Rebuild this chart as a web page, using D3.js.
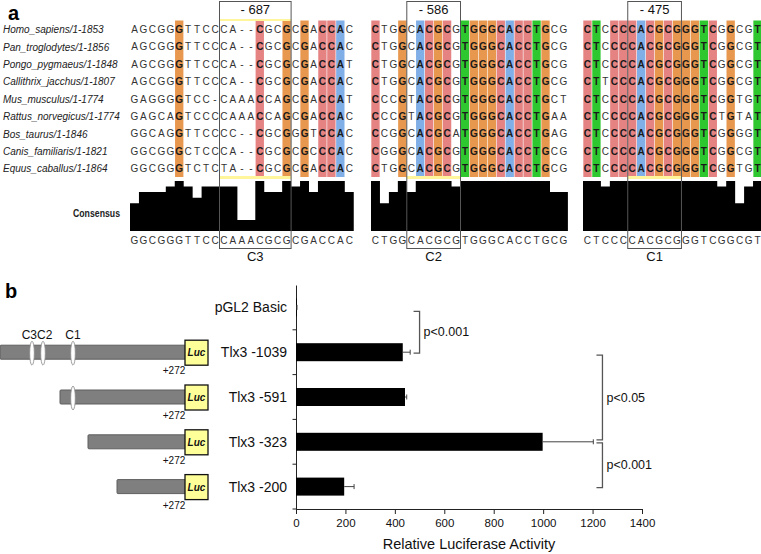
<!DOCTYPE html>
<html><head><meta charset="utf-8">
<script src="https://cdn.jsdelivr.net/npm/d3@7"></script>
<style>body{margin:0;background:#fff}svg{display:block}text{font-family:"Liberation Sans",Arial,sans-serif}</style>
</head><body><svg id="c" width="761" height="554"></svg>
<script>
// ---------- Panel a data ----------
const species = ["Homo_sapiens/1-1853","Pan_troglodytes/1-1856","Pongo_pygmaeus/1-1848","Callithrix_jacchus/1-1807","Mus_musculus/1-1774","Rattus_norvegicus/1-1774","Bos_taurus/1-1846","Canis_familiaris/1-1821","Equus_caballus/1-1864"];
const block1 = ["AGCGGGTTCCCA--CGCGCGACCAC","AGCGGGTTCCCA--CGCGCGACCAC","AGCGGGTTCCCA--CGCGCGACCAT","AGCGGGTTCCCA--CGCGCGACCAC","GAGGGGTCC-CAAACCAGCGACCAT","GAGCAGTCCCCAAACCAGCGACCAC","GGCAGGTTCCCC--CGCGGGTCCAC","GGCGGGCTCCCA--CGCGCGCCCAC","GGCGGGTCTCTA--CGCGCGACCAC"];
const block2 = ["CTGGCACGCGTGGGCACCTGCG","CTGGCACGCGTGGGCACCTGCG","CTGGCACGCGTGGGCACCTGCG","CTGGCACGCGTGGGCACCTGCG","CCCGTACGCGTGGGCACCTGCT","CCCGTACGCGTGGGCACCTGAA","CCGGCACGCATGGGCACCTGAG","CGGGCACGCGTGGGCACCTGCG","CTGGCACGCGTGGGCACCTGCG"];
const block3 = ["CTCCCCACGCGGGTCGGCGT","CTCCCCACGCGGGTCGGCGT","CTCCCCACGCGGGTCGGCGT","CTTCCCACGCGGGTCGGCGT","CTCCCCACGCGGGTCGGTGT","CTCCCCACGCGGGTCTGTAT","CTCCCCACGCGGGTCGGGGT","CTCCCCACGCGGGTCGGCGT","CTCCCCACGCGGGTCGGTGT"];
const blocks = [block1, block2, block3];
const siteLabels = ["- 687","- 586","- 475"];
const siteNames = ["C3","C2","C1"];
const siteCols = [[10,18],[4,10],[5,11]]; // column ranges of boxed elements in each block

// ---------- Panel b data ----------
const constructs = ["pGL2 Basic","Tlx3 -1039","Tlx3 -591","Tlx3 -323","Tlx3 -200"];
const activity = [3, 432, 441, 998, 195];
const errors = [1, 30, 7, 205, 40];
const xTicks = [0,200,400,600,800,1000,1200,1400];
const comparisons = [[0,1],[1,3],[3,4]];
const pLabels = ["p<0.001","p<0.05","p<0.001"];
const bracketX = [500, 1240, 1240];
const promoterStarts = [null, -1039, -591, -323, -200];
const elementNames = ["C3","C2","C1"];
const elementPos = [-687, -586, -475];

const svg = d3.select("#c");
svg.append("rect").attr("width",761).attr("height",554).attr("fill","#fff");

// ---------- Panel a ----------
const colW = 8.95;
const blockX = [130, 371, 583];
const rowY = d3.scaleBand().domain(d3.range(species.length)).range([20.5, 177]).padding(0);
const consY = d3.scaleLinear().domain([0,1]).range([231,181]);
const baseColor = {C:"#e58383", G:"#e8974f", A:"#80aee6", T:"#2fc72f"};

svg.append("text").attr("x",8).attr("y",20).attr("font-size",20).attr("font-weight","bold").text("a");

const nameG = svg.append("g");
species.forEach((s,i)=>{
  nameG.append("text").attr("x",3).attr("y",rowY(i)+rowY.bandwidth()/2+4)
    .attr("font-size",10).attr("font-style","italic").attr("fill","#222").text(s);
});
svg.append("text").attr("x",73).attr("y",217).attr("font-size",10).attr("font-weight","bold")
  .attr("textLength",47).attr("lengthAdjust","spacingAndGlyphs").attr("fill","#222").text("Consensus");

blocks.forEach((blk,b)=>{
  const n = blk[0].length;
  const x = d3.scaleLinear().domain([0,n]).range([blockX[b], blockX[b]+n*colW]);
  const g = svg.append("g");
  const cols = d3.range(n).map(c=>{
    const chars = blk.map(s=>s[c]);
    const counts = d3.rollup(chars.filter(ch=>ch!=="-"), v=>v.length, d=>d);
    let best = null, bc = 0;
    for (const [k,v] of counts) if (v>bc){bc=v;best=k;}
    return {c, best, frac: bc/chars.length, conserved: bc===chars.length};
  });
  // conserved column shading
  cols.filter(d=>d.conserved).forEach(d=>{
    g.append("rect").attr("x",x(d.c)+0.3).attr("y",rowY(0)).attr("width",colW-0.6)
      .attr("height",rowY.range()[1]-rowY.range()[0]).attr("fill",baseColor[d.best]);
  });
  // residues
  blk.forEach((s,i)=>{
    s.split("").forEach((ch,c)=>{
      const cons = cols[c].conserved;
      g.append("text").attr("x",x(c)+colW/2).attr("y",rowY(i)+rowY.bandwidth()/2+3.8)
        .attr("text-anchor","middle").attr("font-size",10)
        .attr("font-weight",cons?"bold":"normal")
        .attr("fill",cons?"#1a1a1a":"#333").text(ch);
    });
  });
  // consensus histogram
  const hist = d3.area().curve(d3.curveStepAfter)
    .x(d=>x(d.c)).y0(consY(0)).y1(d=>consY(d.frac));
  g.append("path").datum(cols.concat([{c:n, frac:cols[n-1].frac}]))
    .attr("d",hist).attr("fill","#000");
  cols.forEach(d=>{
    g.append("text").attr("x",x(d.c)+colW/2).attr("y",244).attr("text-anchor","middle")
      .attr("font-size",10).attr("fill","#333").text(d.best);
  });
  // element box
  const [c0,c1] = siteCols[b];
  g.append("line").attr("x1",x(c0)).attr("x2",x(c1)).attr("y1",177.5).attr("y2",177.5)
    .attr("stroke","#fff59a").attr("stroke-width",3);
  if (b===0) g.append("line").attr("x1",x(c0)).attr("x2",x(c1)).attr("y1",20).attr("y2",20)
    .attr("stroke","#fff59a").attr("stroke-width",2);
  g.append("rect").attr("x",x(c0)).attr("y",1.5).attr("width",x(c1)-x(c0)).attr("height",247)
    .attr("fill","none").attr("stroke","#555").attr("stroke-width",1);
  g.append("text").attr("x",(x(c0)+x(c1))/2).attr("y",14).attr("text-anchor","middle")
    .attr("font-size",13).attr("fill","#111").text(siteLabels[b]);
  g.append("text").attr("x",(x(c0)+x(c1))/2).attr("y",261).attr("text-anchor","middle")
    .attr("font-size",13).attr("fill","#111").text(siteNames[b]);
});

// ---------- Panel b ----------
svg.append("text").attr("x",5).attr("y",298).attr("font-size",20).attr("font-weight","bold").text("b");

const xs = d3.scaleLinear().domain([0,1400]).range([296,642]);
const ys = d3.scaleBand().domain(constructs).range([285,509]);
const xAxis = d3.axisBottom(xs).tickValues(xTicks).tickSize(5).tickFormat(d3.format("d"));
const ax = svg.append("g").attr("transform","translate(0,509)").call(xAxis);
ax.select(".domain").attr("stroke","#222");
ax.selectAll(".tick line").attr("stroke","#222");
ax.selectAll(".tick text").attr("font-size",11.5).attr("fill","#111").attr("font-family","Liberation Sans, Arial").attr("dy","0.9em");
const yAxis = d3.axisLeft(ys).tickValues([]).tickSize(0);
const ay = svg.append("g").attr("transform","translate(296,0)").call(yAxis);
ay.select(".domain").attr("stroke","#222");
ys.domain().forEach(d=>{
  svg.append("line").attr("x1",292.5).attr("x2",296).attr("y1",ys(d)+ys.bandwidth()).attr("y2",ys(d)+ys.bandwidth()).attr("stroke","#222");
});
svg.append("text").attr("x",469).attr("y",549).attr("text-anchor","middle").attr("font-size",14.5).attr("fill","#111").text("Relative Luciferase Activity");

const barH = 18;
constructs.forEach((c,i)=>{
  const yc = ys(c)+ys.bandwidth()/2;
  svg.append("text").attr("x",287).attr("y",yc+5).attr("text-anchor","end").attr("font-size",14).attr("fill","#111").text(c);
  svg.append("rect").attr("x",xs(0)).attr("y",yc-barH/2).attr("width",Math.max(0.8,xs(activity[i])-xs(0))).attr("height",barH).attr("fill","#000");
  const xe = xs(activity[i]+errors[i]);
  svg.append("line").attr("x1",xs(activity[i])).attr("x2",xe).attr("y1",yc).attr("y2",yc).attr("stroke","#444").attr("stroke-width",1);
  svg.append("line").attr("x1",xe).attr("x2",xe).attr("y1",yc-2.5).attr("y2",yc+2.5).attr("stroke","#444").attr("stroke-width",1);
});

comparisons.forEach(([a,b],k)=>{
  const y1 = ys(constructs[a])+ys.bandwidth()/2 + (k===0?4:(k===1?3:1));
  const y2 = ys(constructs[b])+ys.bandwidth()/2 + (k===1?-2:1);
  const bx = xs(bracketX[k]);
  svg.append("path").attr("d",`M${bx-6},${y1}H${bx}V${y2}H${bx-6}`).attr("fill","none").attr("stroke","#555").attr("stroke-width",1.3);
  svg.append("text").attr("x",bx+4).attr("y",(y1+y2)/2+4).attr("font-size",12.5).attr("fill","#111").text(pLabels[k]);
});

// promoter construct schematics (drawn not to scale, as in the original)
const px = d3.scaleLinear().domain([-1039,-591,-323,-200,272]).range([0,60,88,117,186]);
const ex = d3.scaleLinear().domain([-687,-586,-475]).range([32,43,73]);
const labelAnchor = ["end","start","middle"];
const labelShift = [5,-6,0];
const sg = svg.append("g");
constructs.forEach((c,i)=>{
  if (promoterStarts[i]===null) return;
  const yc = ys(c)+ys.bandwidth()/2;
  const x0 = px(promoterStarts[i]), x1 = px(272);
  sg.append("rect").attr("x",x0).attr("y",yc-7).attr("width",x1-x0).attr("height",14)
    .attr("fill","#7f7f7f").attr("stroke","#5e5e5e").attr("stroke-width",1).attr("rx",1);
  elementPos.forEach((p,k)=>{
    if (ex(p) < x0) return;
    sg.append("ellipse").attr("cx",ex(p)).attr("cy",yc+1).attr("rx",2.3).attr("ry",12)
      .attr("fill","#fff").attr("stroke","#888").attr("stroke-width",0.8);
    if (i===1) sg.append("text").attr("x",ex(p)+labelShift[k]).attr("y",yc-13).attr("text-anchor",labelAnchor[k])
      .attr("font-size",12).attr("fill","#111").text(elementNames[k]);
  });
  sg.append("rect").attr("x",x1-1).attr("y",yc-12).attr("width",23).attr("height",25)
    .attr("fill","#ffff99").attr("stroke","#111").attr("stroke-width",1.3);
  sg.append("text").attr("x",x1+10.5).attr("y",yc+4).attr("text-anchor","middle")
    .attr("font-size",10).attr("font-weight","bold").attr("font-style","italic").attr("fill","#111").text("Luc");
  sg.append("text").attr("x",x1-12).attr("y",yc+22).attr("text-anchor","middle")
    .attr("font-size",10).attr("fill","#111").text("+272");
});
</script></body></html>
